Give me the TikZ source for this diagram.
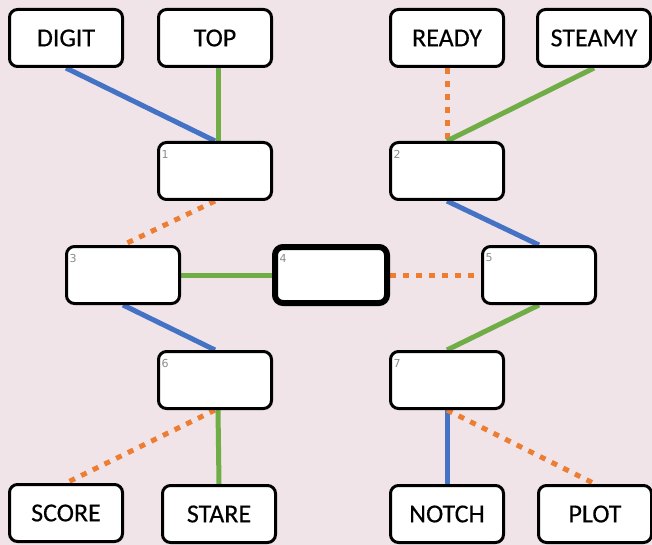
\documentclass[tikz,border=0pt]{standalone}
\usepackage{fontspec}
\setmainfont{Carlito}[FakeBold=0.3]
\newfontfamily\numfont{DejaVu Sans}
\definecolor{bg}{RGB}{240,228,232}
\definecolor{eblue}{RGB}{68,114,196}
\definecolor{egreen}{RGB}{112,173,71}
\definecolor{eorange}{RGB}{237,125,49}
\definecolor{numgray}{RGB}{140,140,140}
\pgfdeclarelayer{bglayer}
\pgfdeclarelayer{edgelayer}
\pgfsetlayers{bglayer,edgelayer,main}
\begin{document}
\begin{tikzpicture}[x=1pt,y=-1pt,
  box/.style={draw=black,line width=3pt,fill=white,rounded corners=8pt,
    minimum width=113pt,minimum height=57pt,inner sep=0pt,
    font=\fontsize{26}{30}\selectfont},
  bigbox/.style={box,line width=6pt,minimum width=112pt,minimum height=56pt},
  num/.style={font=\numfont\fontsize{11}{12}\selectfont,text=numgray,anchor=center},
  eb/.style={draw=eblue,line width=5pt},
  eg/.style={draw=egreen,line width=5pt},
  eo/.style={draw=eorange,line width=5pt,dash pattern=on 6pt off 7pt}]
\begin{pgfonlayer}{bglayer}
\fill[bg] (0,0) rectangle (652,545);
\end{pgfonlayer}
\useasboundingbox (0,0) rectangle (652,545);
% nodes
\node[box] (digit) at (66,38) {DIGIT};
\node[box] (top) at (215,38) {TOP};
\node[box] (ready) at (447,38) {READY};
\node[box] (steamy) at (594,38) {STEAMY};
\node[box] (n1) at (215,171) {};
\node[box] (n2) at (447,171) {};
\node[box] (n3) at (123,275) {};
\node[bigbox] (n4) at (331,275) {};
\node[box] (n5) at (539,275) {};
\node[box] (n6) at (215,380) {};
\node[box] (n7) at (447,380) {};
\node[box] (score) at (66,513) {SCORE};
\node[box] (stare) at (219,514) {STARE};
\node[box] (notch) at (447,514) {NOTCH};
\node[box] (plot) at (595,514) {PLOT};
% numbers
\node[num] (l1) at ([xshift=8pt,yshift=-13pt]n1.north west) {1};
\node[num] (l2) at ([xshift=8pt,yshift=-13pt]n2.north west) {2};
\node[num] (l3) at ([xshift=8pt,yshift=-13pt]n3.north west) {3};
\node[num] (l4) at ([xshift=11pt,yshift=-14pt]n4.north west) {4};
\node[num] (l5) at ([xshift=8pt,yshift=-13pt]n5.north west) {5};
\node[num] (l6) at ([xshift=8pt,yshift=-13pt]n6.north west) {6};
\node[num] (l7) at ([xshift=8pt,yshift=-13pt]n7.north west) {7};
% edges behind nodes
\begin{pgfonlayer}{edgelayer}
\draw[eb] (digit.south) -- (n1.north);
\draw[eg] ([xshift=3pt]top.south) -- ([xshift=3pt]n1.north);
\draw[eo] (ready.south) -- (n2.north);
\draw[eg] (steamy.south) -- (n2.north);
\draw[eo] (n1.south) -- (n3.north);
\draw[eb] (n2.south) -- (n5.north);
\draw[eg] (n3.east) -- (n4.west);
\draw[eo] (n4.east) -- (n5.west);
\draw[eb] (n3.south) -- (n6.north);
\draw[eg] (n5.south) -- (n7.north);
\draw[eo] (n6.south) -- (score.north);
\draw[eg] ([xshift=3pt]n6.south) -- (stare.north);
\draw[eb] (n7.south) -- (notch.north);
\draw[eo] (n7.south) -- (plot.north);
\end{pgfonlayer}
\end{tikzpicture}
\end{document}
